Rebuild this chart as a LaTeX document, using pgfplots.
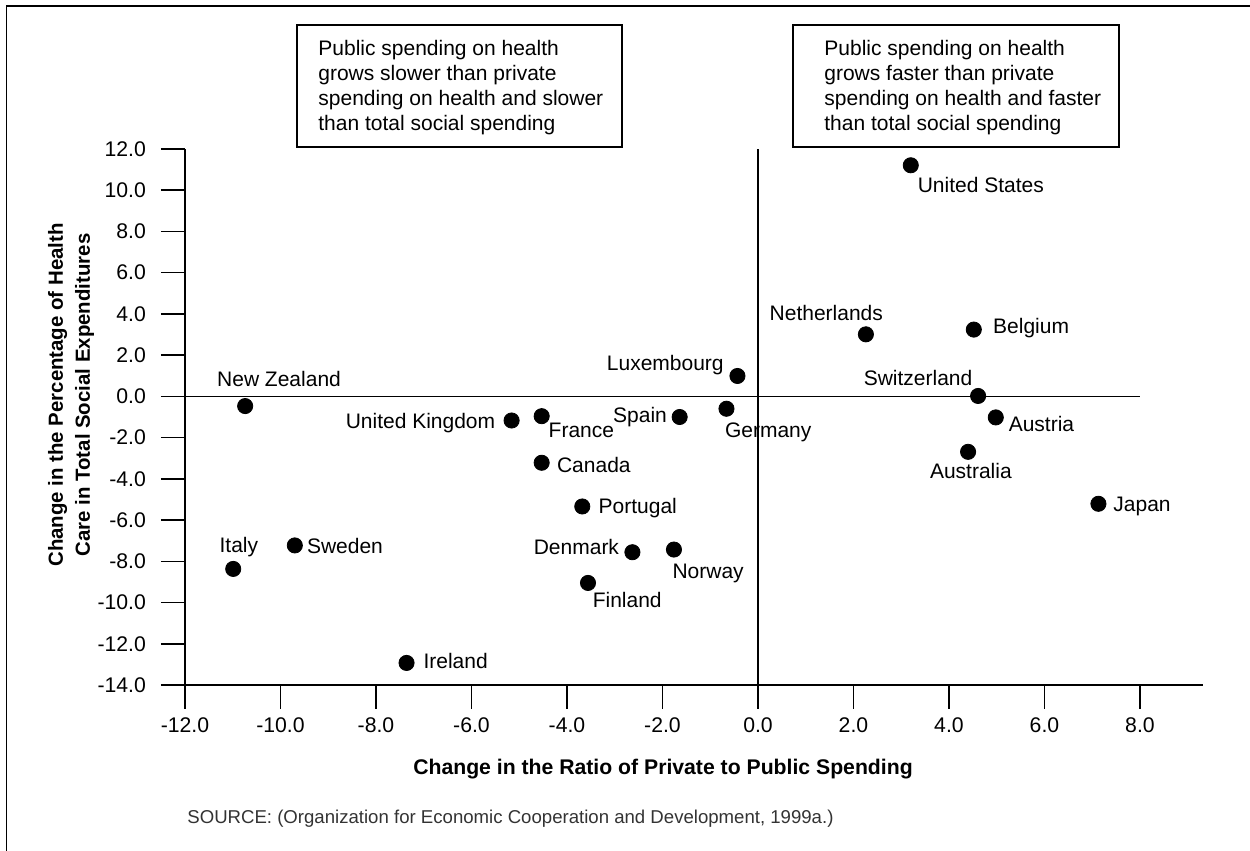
\documentclass[border=0pt]{standalone}
\usepackage{fontspec}
\setmainfont{Liberation Sans}
\usepackage{pgfplots}
\pgfplotsset{compat=1.18}
\usepackage{pgfplotstable}
% labels right of / below the dot (anchor base west)
\pgfplotstableread[col sep=comma]{
x,y,label,dx,dy
-10.74,-0.47,New Zealand,-14.2,9.9
-4.53,-0.96,France,3.3,-10.8
-4.53,-3.22,Canada,7.5,-4.9
-3.68,-5.34,Portugal,8.0,-3.7
-10.99,-8.37,Italy,-7.0,8.3
-9.70,-7.23,Sweden,5.9,-3.9
-3.56,-9.05,Finland,2.2,-12.2
-7.36,-12.93,Ireland,8.3,-2.7
-0.66,-0.60,Germany,-0.9,-14.5
-1.76,-7.43,Norway,-0.9,-14.4
3.20,11.21,United States,3.3,-13.4
4.52,3.24,Belgium,9.5,-2.0
4.98,-1.02,Austria,6.3,-6.9
7.13,-5.21,Japan,7.3,-3.9
}\westlabels
% labels left of the dot (anchor base east)
\pgfplotstableread[col sep=comma]{
x,y,label,dx,dy
-5.16,-1.17,United Kingdom,-8.0,-3.9
-2.63,-7.56,Denmark,-6.5,-1.2
-0.43,0.99,Luxembourg,-6.7,2.9
-1.64,-1.00,Spain,-6.2,-3.0
2.26,3.01,Netherlands,8.7,6.7
4.61,0.02,Switzerland,-2.7,5.4
}\eastlabels
% labels centred below the dot (anchor base)
\pgfplotstableread[col sep=comma]{
x,y,label,dx,dy
4.40,-2.69,Australia,1.4,-13.5
}\centerlabels
\pgfplotsset{
  country/.style={only marks, mark=*, mark size=3.8pt, black,
    point meta=explicit symbolic,
    visualization depends on={\thisrow{dx}\as\mydx},
    visualization depends on={\thisrow{dy}\as\mydy},
    nodes near coords,
    every node near coord/.append style={anchor=#1, xshift=\mydx, yshift=\mydy, inner sep=0pt, font=\fontsize{10.5}{12}\selectfont, text=black}},
}
\begin{document}
\begin{tikzpicture}
\useasboundingbox (0,0) rectangle (625pt,425.5pt);
\draw[line width=0.8pt] (3.3pt,0pt) -- (3.3pt,422.5pt) -- (625pt,422.5pt);
% boxes
\draw[line width=0.6pt] (148.5pt,413pt) rectangle (311pt,352pt);
\draw[line width=0.6pt] (396.5pt,413pt) rectangle (559.5pt,352pt);
\begin{scope}[every node/.style={inner sep=0pt, anchor=base west, font=\fontsize{10.5}{12}\selectfont}]
\node at (159pt,397.5pt) {Public spending on health};
\node at (159pt,385.05pt) {grows slower than private};
\node at (159pt,372.6pt) {spending on health and slower};
\node at (159pt,360.15pt) {than total social spending};
\node at (412pt,397.5pt) {Public spending on health};
\node at (412pt,385.05pt) {grows faster than private};
\node at (412pt,372.6pt) {spending on health and faster};
\node at (412pt,360.15pt) {than total social spending};
\end{scope}
\node[inner sep=0pt, anchor=base, font=\bfseries\fontsize{10.6}{12}\selectfont] at (331.5pt,38pt) {Change in the Ratio of Private to Public Spending};
\node[inner sep=0pt, anchor=center, rotate=90, align=center, font=\bfseries\fontsize{10.2}{13.5}\selectfont] at (35.5pt,228pt) {Change in the Percentage of Health\\Care in Total Social Expenditures};
\node[inner sep=0pt, anchor=base west, text=black!80, font=\fontsize{9.3}{11}\selectfont] at (93.5pt,13.5pt) {SOURCE: (Organization for Economic Cooperation and Development, 1999a.)};
\begin{axis}[
  at={(92.5pt,83pt)}, anchor=south west,
  scale only axis, width=509pt, height=268pt,
  xmin=-12, xmax=9.32, ymin=-14, ymax=12,
  axis x line=bottom, axis y line=left,
  axis line style={-, line width=0.75pt},
  x axis line style={-}, y axis line style={-},
  tick align=outside, major tick length=12pt,
  tick style={black, line width=0.75pt},
  xtick={-12,-10,...,8}, ytick={-14,-12,...,12},
  minor tick num=0,
  ticklabel style={font=\fontsize{10.6}{12}\selectfont},
  yticklabel style={xshift=-4pt},
  xticklabel style={yshift=-1pt},
  /pgf/number format/.cd, fixed, fixed zerofill, precision=1, assume math mode=true,
  /pgfplots/.cd,
  clip=false,
]
\addplot[black, line width=0.5pt] coordinates {(-12,0) (8,0)};
\addplot[black, line width=1.4pt] coordinates {(0,-14) (0,12)};
\addplot[country=base west] table[x=x, y=y, meta=label] {\westlabels};
\addplot[country=base east] table[x=x, y=y, meta=label] {\eastlabels};
\addplot[country=base] table[x=x, y=y, meta=label] {\centerlabels};
\end{axis}
\end{tikzpicture}
\end{document}
